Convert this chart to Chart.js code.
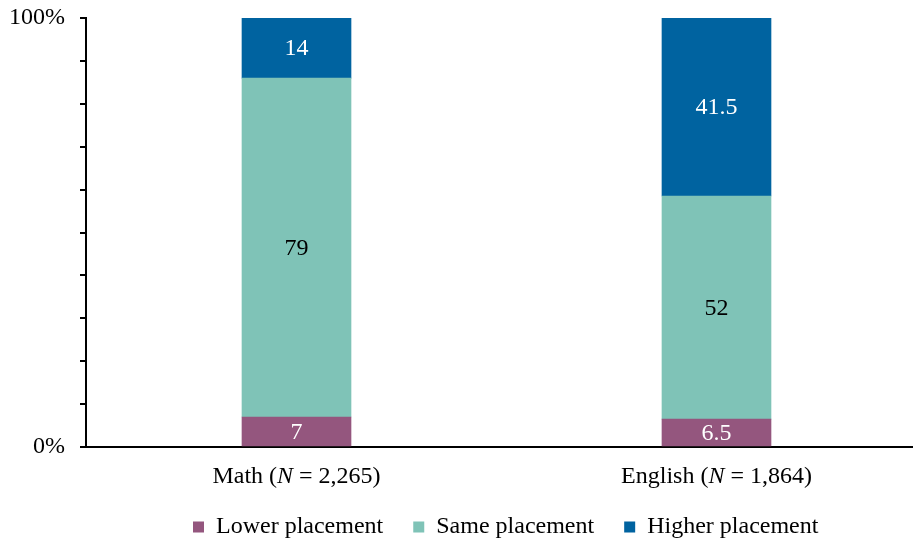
<!DOCTYPE html>
<html><head><meta charset="utf-8">
<script src="https://cdn.jsdelivr.net/npm/chart.js@4/dist/chart.umd.min.js"></script>
<style>html,body{margin:0;padding:0;background:#fff;overflow:hidden}#wrap{width:914px;height:539px;position:relative}</style>
</head><body><div id="wrap"><canvas id="c" width="914" height="539"></canvas></div>
<script>
const categories = ['Math', 'English'];
const categoryN = ['2,265', '1,864'];
const seriesNames = ['Lower placement', 'Same placement', 'Higher placement'];
const lowerValues = [7, 6.5];
const sameValues = [79, 52];
const higherValues = [14, 41.5];
const seriesColors = ['#94567E', '#7FC3B7', '#0063A0'];
const labelColors = ['#ffffff', '#000000', '#ffffff'];
const yTickLabels = {0: '0%', 100: '100%'};

const FONT = "'Liberation Serif', 'Times New Roman', serif";
const FS = 24;
const allSeries = [lowerValues, sameValues, higherValues];

const datasets = allSeries.map((vals, s) => ({
  label: seriesNames[s],
  data: vals.map((v, i) => ({x: i, y: v})),
  backgroundColor: seriesColors[s],
  borderWidth: 0,
  barThickness: 109
}));

const valueLabels = {
  id: 'valueLabels',
  afterDatasetsDraw(chart) {
    const ctx = chart.ctx;
    ctx.save();
    ctx.font = FS + 'px ' + FONT;
    ctx.textAlign = 'center';
    ctx.textBaseline = 'middle';
    chart.data.datasets.forEach((ds, s) => {
      const meta = chart.getDatasetMeta(s);
      meta.data.forEach((bar, i) => {
        const p = bar.getProps(['x', 'y', 'base'], true);
        ctx.fillStyle = labelColors[s];
        ctx.fillText(String(allSeries[s][i]), p.x, (p.y + p.base) / 2 + 1);
      });
    });
    ctx.restore();
  }
};

const catLabels = {
  id: 'catLabels',
  afterDraw(chart) {
    const ctx = chart.ctx;
    const xs = chart.scales.x;
    const baseY = chart.chartArea.bottom + 36;
    ctx.save();
    ctx.fillStyle = '#000';
    ctx.textBaseline = 'alphabetic';
    ctx.textAlign = 'left';
    categories.forEach((c, i) => {
      const parts = [[c + ' (', 'normal'], ['N', 'italic'], [' = ' + categoryN[i] + ')', 'normal']];
      let total = 0;
      const widths = parts.map(([t, st]) => { ctx.font = st + ' ' + FS + 'px ' + FONT; const w = ctx.measureText(t).width; total += w; return w; });
      let x = xs.getPixelForValue(i) - total / 2;
      parts.forEach(([t, st], k) => {
        ctx.font = st + ' ' + FS + 'px ' + FONT;
        ctx.fillText(t, x, baseY);
        x += widths[k];
      });
    });
    ctx.restore();
  }
};

const legendShift = {
  id: 'legendShift',
  afterLayout(chart) {
    const lg = chart.legend;
    if (!lg || !lg.lineWidths) return;
    const pad = lg.options.labels.padding;
    const start = (lg.left + pad + lg.right - lg.lineWidths[0]) / 2;
    const dx = 193 - start;
    lg.left += dx; lg.right += dx;
    const center = lg.top + pad + FS / 2;
    const dy = 527 - center;
    lg.top += dy; lg.bottom += dy;
  }
};

new Chart(document.getElementById('c'), {
  type: 'bar',
  data: { datasets },
  plugins: [valueLabels, catLabels, legendShift],
  options: {
    responsive: false,
    animation: false,
    layout: { padding: { top: 0, right: 2, left: 0, bottom: 0 } },
    plugins: {
      tooltip: { enabled: false },
      legend: {
        position: 'bottom',
        labels: {
          boxWidth: 11, boxHeight: 11, padding: 30, color: '#000',
          font: { family: FONT, size: FS, lineHeight: 1 }
        }
      }
    },
    scales: {
      x: {
        type: 'linear', min: -0.5012, max: 1.4655, stacked: true, offset: false,
        grid: { display: false },
        border: { display: true, color: '#000', width: 2 },
        ticks: { display: false },
        afterFit(s) { const lh = s.chart.legend ? s.chart.legend.height : 0; s.height = Math.max(0, 539 - 447 - lh); }
      },
      y: {
        stacked: true, min: 0, max: 100,
        ticks: {
          stepSize: 10, color: '#000', padding: 15,
          font: { family: FONT, size: FS },
          callback: v => (yTickLabels[v] !== undefined ? yTickLabels[v] : '')
        },
        grid: { drawOnChartArea: false, drawTicks: true, tickLength: 6, color: '#000', lineWidth: 2 },
        border: { display: true, color: '#000', width: 2 },
        afterFit(s) { s.width = 86; s.paddingTop = 18; s.paddingBottom = 0; }
      }
    }
  }
});
</script>
</body></html>
